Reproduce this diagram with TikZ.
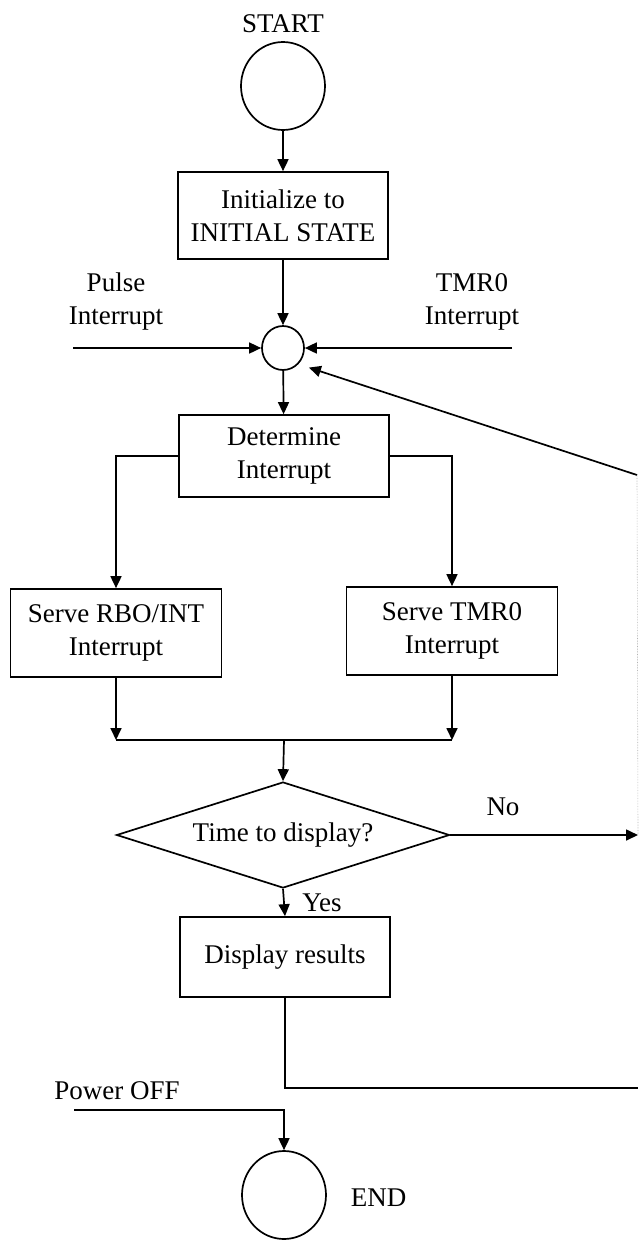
\documentclass[tikz,border=0pt]{standalone}
\usepackage{fontspec}
\setmainfont{Liberation Serif}
\usetikzlibrary{arrows.meta,shapes.geometric,calc}
\begin{document}
\begin{tikzpicture}[x=1pt,y=-1pt,
  font=\fontsize{27}{33}\selectfont,
  line width=1.7pt,
  box/.style={draw, rectangle, minimum width=210pt, inner sep=0pt, align=center},
  term/.style={draw, ellipse, minimum width=84pt, minimum height=88pt, inner sep=0pt},
  lbl/.style={inner sep=0pt, align=center},
  arr/.style={-{Triangle[length=12pt,width=11pt]}}]
\useasboundingbox (0,0) rectangle (638,1240);

% nodes
\node[lbl] (startlbl) at (283,24) {START};
\node[term] (start) at (283,86) {};
\node[box, minimum height=87pt] (init) at (283,215.5) {Initialize to\\INITIAL STATE};
\node[draw, ellipse, minimum width=42pt, minimum height=44pt, inner sep=0pt] (junc) at (283,348) {};
\node[lbl] (pulselbl) at (116,302) {Pulse\\Interrupt};
\node[lbl] (tmrlbl) at (472,302) {TMR0\\Interrupt};
\coordinate (pin) at (73,348);
\coordinate (tin) at (512,348);
\coordinate (ret) at (637,475);
\node[box, minimum height=82pt] (det) at (284,456) {Determine\\Interrupt};
\node[box, minimum width=211pt, minimum height=88pt] (rbo) at (116,633) {Serve RBO/INT\\Interrupt};
\node[box, minimum width=211pt, minimum height=88pt] (tmr) at (452,631) {Serve TMR0\\Interrupt};
\coordinate (m1) at (116,740);
\coordinate (m2) at (452,740);
\coordinate (mc) at (284,740);
\node[draw, diamond, aspect=3.1, minimum width=333pt, minimum height=106pt, inner sep=0pt] (dec) at (283,835) {Time to display?};
\coordinate (noend) at (638,835);
\node[lbl] (nolbl) at (503,807) {No};
\node[lbl] (yeslbl) at (322,903) {Yes};
\node[box, minimum height=80pt] (disp) at (285,957) {Display results};
\coordinate (dcorner) at (285,1088);
\coordinate (dret) at (638,1088);
\node[lbl] (pwrlbl) at (117,1091) {Power OFF};
\coordinate (pwr) at (74,1110);
\coordinate (pcorner) at (284,1110);
\node[term] (endc) at (284,1195) {};
\node[lbl, anchor=west] (endlbl) at (350,1198) {END};

% connectors
\draw[arr] (start) -- (init);
\draw[arr] (init) -- (junc);
\draw[arr] (pin) -- (junc.west);
\draw[arr] (tin) -- (junc.east);
\draw[arr, shorten >=11pt] (ret) -- (junc.south east);
\draw[gray!60, line width=0.6pt, densely dotted] (ret) -- (noend);
\draw[arr] (junc) -- (det);
\draw[arr] (det.west) -| (rbo.north);
\draw[arr] (det.east) -| (tmr.north);
\draw[arr] (rbo.south) -- (m1);
\draw[arr] (tmr.south) -- (m2);
\draw (m1) -- (m2);
\draw[arr] (mc) -- (dec.north);
\draw[arr] (dec.east) -- (noend);
\draw[arr] (dec.south) -- (disp.north);
\draw (disp.south) -- (dcorner) -- (dret);
\draw[arr] (pwr) -- (pcorner) -- (endc.north);
\end{tikzpicture}
\end{document}
